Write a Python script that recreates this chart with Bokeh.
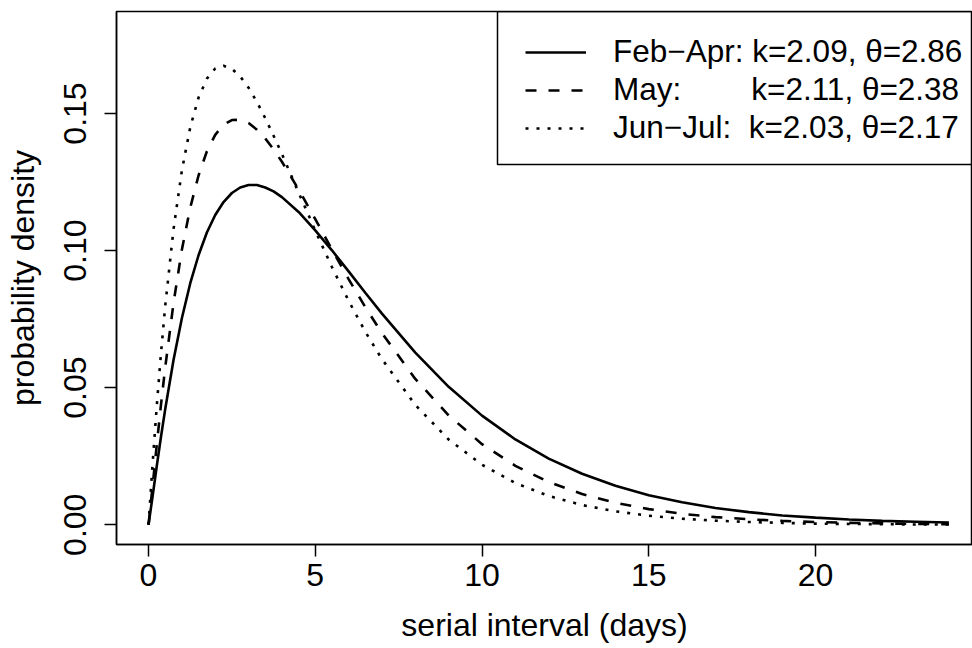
from bokeh.plotting import figure
from bokeh.models import FixedTicker, Legend, LegendItem, BoxAnnotation, Range1d, PrintfTickFormatter
from bokeh.embed import file_html
from bokeh.resources import INLINE

# serial interval (days)
days = [0, 0.125, 0.25, 0.375, 0.5, 0.75, 1, 1.25, 1.5, 1.75, 2, 2.25, 2.5, 2.75, 3, 3.25,
        3.5, 3.75, 4, 4.5, 5, 5.5, 6, 6.5, 7, 8, 9, 10, 11, 12, 13, 14, 15, 16, 17, 18, 19,
        20, 21, 22, 23, 24]

# probability density
feb_apr = [0.0, 0.0106, 0.0216, 0.0322, 0.0421, 0.0601, 0.0753, 0.0880, 0.0983, 0.1066,
           0.1130, 0.1177, 0.1210, 0.1230, 0.1239, 0.1239, 0.1230, 0.1216, 0.1195, 0.1141,
           0.1074, 0.1001, 0.0924, 0.0846, 0.0770, 0.0628, 0.0503, 0.0398, 0.0311, 0.0241,
           0.0186, 0.0142, 0.0108, 0.0082, 0.0061, 0.0046, 0.0034, 0.0026, 0.0019, 0.0014,
           0.0011, 0.0008]
may = [0.0, 0.0144, 0.0295, 0.0439, 0.0573, 0.0809, 0.1003, 0.1156, 0.1274, 0.1362,
       0.1422, 0.1459, 0.1476, 0.1477, 0.1465, 0.1441, 0.1409, 0.1369, 0.1324, 0.1223,
       0.1115, 0.1004, 0.0896, 0.0794, 0.0699, 0.0532, 0.0399, 0.0294, 0.0215, 0.0156,
       0.0112, 0.0080, 0.0057, 0.0040, 0.0028, 0.0020, 0.0014, 0.0010, 0.0007, 0.0005,
       0.0003, 0.0002]
jun_jul = [0.0, 0.0227, 0.0438, 0.0627, 0.0797, 0.1078, 0.1292, 0.1449, 0.1558, 0.1627,
           0.1664, 0.1674, 0.1663, 0.1635, 0.1594, 0.1542, 0.1483, 0.1419, 0.1352, 0.1212,
           0.1073, 0.0940, 0.0817, 0.0704, 0.0604, 0.0437, 0.0311, 0.0219, 0.0152, 0.0105,
           0.0072, 0.0049, 0.0033, 0.0022, 0.0015, 0.0010, 0.0007, 0.0004, 0.0003, 0.0002,
           0.0001, 0.0001]

series_labels = [
    "Feb\u2212Apr: k=2.09, \u03b8=2.86",
    "May:" + "\u00a0" * 8 + "k=2.11, \u03b8=2.38",
    "Jun\u2212Jul:\u00a0\u00a0k=2.03, \u03b8=2.17",
]

x_ticks = [0, 5, 10, 15, 20]
y_ticks = [0, 0.05, 0.10, 0.15]
y_tick_labels = ["0.00", "0.05", "0.10", "0.15"]

FONT = "Liberation Sans"

p = figure(width=972, height=648, output_backend="svg", toolbar_location=None,
           x_range=Range1d(-0.96, 24.707), y_range=Range1d(-0.0072, 0.1872),
           min_border_left=116, min_border_right=0, min_border_top=11, min_border_bottom=104,
           x_axis_label="serial interval (days)", y_axis_label="probability density")

r1 = p.line(days, feb_apr, line_color="black", line_width=2.6)
r2 = p.line(days, may, line_color="black", line_width=2.6, line_dash="11 12")
r3 = p.line(days, jun_jul, line_color="black", line_width=2.6, line_dash="3 8")

p.xgrid.visible = False
p.ygrid.visible = False
p.background_fill_color = "white"
p.border_fill_color = "white"
p.outline_line_color = "black"
p.outline_line_width = 1.5
p.outline_line_alpha = 1.0

p.xaxis.ticker = FixedTicker(ticks=x_ticks)
p.yaxis.ticker = FixedTicker(ticks=y_ticks)
p.yaxis.formatter = PrintfTickFormatter(format="%.2f")
p.yaxis.major_label_overrides = dict(zip(y_ticks, y_tick_labels))
p.yaxis.major_label_orientation = "vertical"

for ax in (p.xaxis[0], p.yaxis[0]):
    ax.axis_line_color = "black"
    ax.axis_line_width = 1.5
    ax.major_tick_line_color = "black"
    ax.major_tick_line_width = 1.5
    ax.major_tick_out = 12
    ax.major_tick_in = 0
    ax.minor_tick_out = 0
    ax.minor_tick_in = 0
    ax.major_label_text_font = FONT
    ax.major_label_text_font_size = "32px"
    ax.major_label_text_color = "black"
    ax.axis_label_text_font = FONT
    ax.axis_label_text_font_size = "32px"
    ax.axis_label_text_font_style = "normal"
    ax.axis_label_text_color = "black"

p.xaxis.major_label_standoff = 7
p.xaxis.axis_label_standoff = 18
p.yaxis.major_label_standoff = 18
p.yaxis.axis_label_standoff = 21

legend_box = BoxAnnotation(left=381, left_units="screen", bottom=380, bottom_units="screen",
                           fill_color=None, fill_alpha=0, line_color="black", line_width=1.5,
                           line_alpha=1.0)
p.add_layout(legend_box)

legend = Legend(items=[LegendItem(label=series_labels[0], renderers=[r1]),
                       LegendItem(label=series_labels[1], renderers=[r2]),
                       LegendItem(label=series_labels[2], renderers=[r3])],
                location=(409, 398), padding=0, margin=0,
                border_line_color=None, background_fill_alpha=0,
                glyph_width=61, glyph_height=20, label_height=36, spacing=1,
                label_standoff=27, label_text_font=FONT, label_text_font_size="31.5px",
                label_text_color="black")
p.add_layout(legend)

open("out.html", "w").write(file_html(p, INLINE))
